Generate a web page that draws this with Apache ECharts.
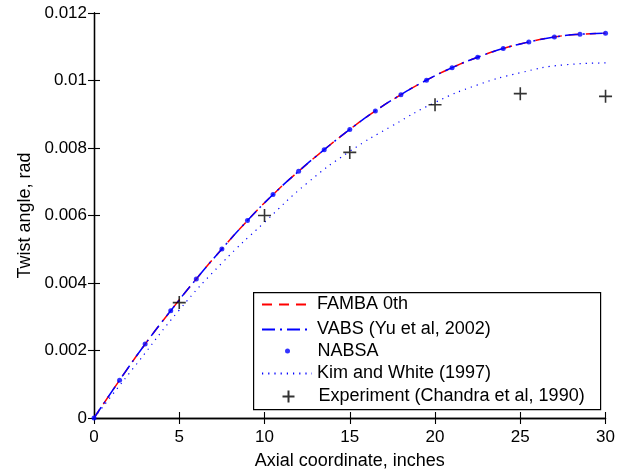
<!DOCTYPE html>
<html>
<head>
<meta charset="utf-8">
<script src="https://cdn.jsdelivr.net/npm/echarts@6/dist/echarts.min.js"></script>
<style>
  html, body { margin: 0; padding: 0; background: #fff; }
  #chart { width: 618px; height: 475px; }
</style>
</head>
<body>
<div id="chart"></div>
<script>
// ---- data ----
var nabsaX = [0, 1.5, 3, 4.5, 6, 7.5, 9, 10.5, 12, 13.5, 15, 16.5, 18, 19.5, 21, 22.5, 24, 25.5, 27, 28.5, 30];
var nabsaY = [0, 0.00112, 0.00219, 0.00318, 0.00412, 0.00501, 0.00585, 0.00662, 0.00731, 0.00795, 0.00855, 0.0091, 0.00958, 0.01001, 0.01038, 0.01069, 0.01095, 0.01114, 0.01129, 0.01137, 0.0114];
var fambaX = [0, 1.5, 3, 4.5, 6, 7.5, 9, 10.5, 12, 13.5, 15, 16.5, 18, 19.5, 21, 22.5, 24, 25.5, 27, 28.5, 30];
var fambaY = [0, 0.00112, 0.00219, 0.00318, 0.00412, 0.00501, 0.00585, 0.00662, 0.00731, 0.00795, 0.00855, 0.0091, 0.00958, 0.01001, 0.01038, 0.01069, 0.01095, 0.01114, 0.01129, 0.01137, 0.0114];
var vabsX = [0, 1.5, 3, 4.5, 6, 7.5, 9, 10.5, 12, 13.5, 15, 16.5, 18, 19.5, 21, 22.5, 24, 25.5, 27, 28.5, 30];
var vabsY = [0, 0.00112, 0.00219, 0.00318, 0.00412, 0.00501, 0.00585, 0.00662, 0.00731, 0.00795, 0.00855, 0.0091, 0.00958, 0.01001, 0.01038, 0.01069, 0.01095, 0.01114, 0.01129, 0.01137, 0.0114];
var kimX = [0, 2.5, 5, 7.5, 10, 12.5, 15, 17.5, 20, 22.5, 25, 27.5, 30];
var kimY = [0, 0.0016, 0.0032, 0.00459, 0.0058, 0.00696, 0.0079, 0.00866, 0.00935, 0.00987, 0.01023, 0.01046, 0.01052];
var expX = [5, 10, 15, 20, 25, 30];
var expY = [0.00342, 0.0060, 0.00787, 0.00928, 0.00961, 0.00953];

var names = ['FAMBA 0th', 'VABS (Yu et al, 2002)', 'NABSA', 'Kim and White (1997)', 'Experiment (Chandra et al, 1990)'];
var xTicks = { min: 0, max: 30, interval: 5 };
var yTicks = { min: 0, max: 0.012, interval: 0.002 };
var xTitle = 'Axial coordinate, inches';
var yTitle = 'Twist angle, rad';

function zip(xs, ys) { return xs.map(function (x, i) { return [x, ys[i]]; }); }

var FONT = '"Liberation Sans", Arial, Helvetica, sans-serif';
var crossPath = 'path://M6,0L6,12M0,6L12,6';

function axisCommon() {
  return {
    axisLine: { show: true, lineStyle: { color: '#000', width: 1.3 } },
    axisTick: { show: true, inside: true, length: 6, lineStyle: { color: '#000', width: 1.1 } },
    splitLine: { show: false }
  };
}

var xBottom = Object.assign(axisCommon(), {
  type: 'value', position: 'bottom', min: xTicks.min, max: xTicks.max, interval: xTicks.interval,
  name: xTitle, nameLocation: 'middle', nameGap: 34,
  nameTextStyle: { fontFamily: FONT, fontSize: 18, color: '#000' },
  axisLabel: { show: true, margin: 11, fontFamily: FONT, fontSize: 17, color: '#000' }
});
var xTop = Object.assign(axisCommon(), {
  type: 'value', position: 'top', min: xTicks.min, max: xTicks.max, interval: xTicks.interval,
  axisLabel: { show: false }
});
var yLeft = Object.assign(axisCommon(), {
  type: 'value', position: 'left', min: yTicks.min, max: yTicks.max, interval: yTicks.interval,
  name: yTitle, nameLocation: 'middle', nameGap: 60,
  nameTextStyle: { fontFamily: FONT, fontSize: 18, color: '#000' },
  axisLabel: { show: true, margin: 7, fontFamily: FONT, fontSize: 17, color: '#000' }
});
var yRight = Object.assign(axisCommon(), {
  type: 'value', position: 'right', min: yTicks.min, max: yTicks.max, interval: yTicks.interval,
  axisLabel: { show: false }
});

var legendText = { fontFamily: FONT, fontSize: 18, color: '#000' };
function legendRow(name, centerY, left, h, hideSymbol) {
  var l = {
    data: [name], orient: 'vertical', left: left, top: centerY - 9,
    itemWidth: 50, itemHeight: h, padding: 0, selectedMode: false,
    textStyle: legendText
  };
  if (hideSymbol) { l.itemStyle = { opacity: 0 }; }
  return l;
}

var option = {
  animation: false,
  backgroundColor: '#fff',
  grid: { left: 94, right: 9, top: 13, bottom: 56, containLabel: false },
  xAxis: [xBottom, xTop],
  yAxis: [yLeft, yRight],
  legend: [
    legendRow(names[0], 304.5, 261, 14, true),
    legendRow(names[1], 329.5, 261, 14, true),
    legendRow(names[2], 351, 285, 5, false),
    legendRow(names[3], 373.5, 261, 14, true),
    legendRow(names[4], 396.5, 280, 12, false)
  ],
  graphic: [{
    type: 'rect', left: 253, top: 292, z: 3,
    shape: { width: 347, height: 117 },
    style: { fill: '#fff', stroke: '#000', lineWidth: 1.2 }
  }],
  series: [
    {
      name: names[3], type: 'line', data: zip(kimX, kimY), smooth: true,
      symbol: 'none', lineStyle: { color: '#0000ff', width: 1.2, type: [1.2, 5] },
      itemStyle: { color: '#0000ff' }, z: 2
    },
    {
      name: names[0], type: 'line', data: zip(fambaX, fambaY), smooth: true,
      symbol: 'none', lineStyle: { color: '#ff0000', width: 1.5, type: [10, 7] },
      itemStyle: { color: '#ff0000' }, z: 2
    },
    {
      name: names[1], type: 'line', data: zip(vabsX, vabsY), smooth: true,
      symbol: 'none', lineStyle: { color: '#0000ff', width: 1.5, type: [13, 5, 2, 5] },
      itemStyle: { color: '#0000ff' }, z: 2
    },
    {
      name: names[2], type: 'scatter', data: zip(nabsaX, nabsaY),
      symbol: 'circle', symbolSize: 5, itemStyle: { color: '#0000ff' }, z: 2
    },
    {
      name: names[4], type: 'scatter', data: zip(expX, expY),
      symbol: crossPath, symbolSize: 13,
      itemStyle: { color: 'none', borderColor: '#000', borderWidth: 1.6 }, z: 2
    }
  ]
};

var chart = echarts.init(document.getElementById('chart'), null, { renderer: 'canvas' });
chart.setOption(option);
</script>
</body>
</html>
